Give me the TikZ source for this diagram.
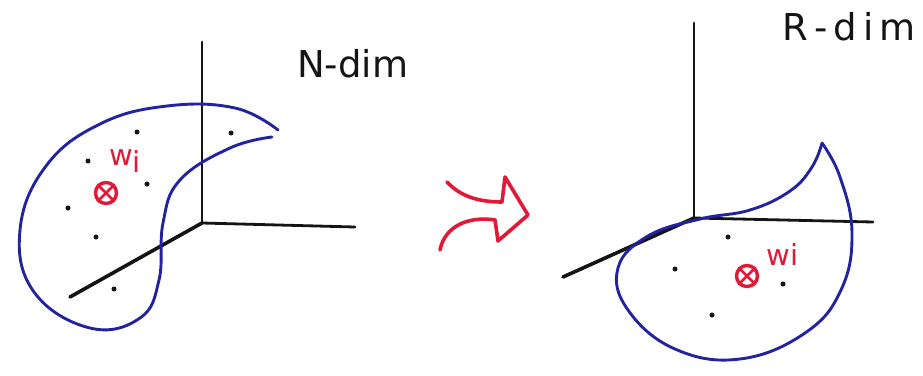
\documentclass[tikz,border=0pt]{standalone}
\usepackage{fontspec}
\setmainfont{DejaVu Sans}
\definecolor{blobblue}{RGB}{35,35,160}
\definecolor{penred}{RGB}{225,25,55}
\definecolor{ink}{RGB}{20,20,20}
\tikzset{
  axis/.style={draw=ink, line width=2.8pt, line cap=round},
  diagaxis/.style={draw=ink, line width=3.6pt, line cap=round},
  blob/.style={draw=blobblue, line width=2.9pt, line cap=round, line join=round},
  sample/.style={fill=ink, circle, inner sep=0pt, minimum size=5pt},
  mean/.style={draw=penred, line width=3.4pt},
  label/.style={text=ink, inner sep=0pt, anchor=base west, font=\fontsize{37}{40}\selectfont},
  wlabel/.style={text=penred, inner sep=0pt, anchor=base west, font=\fontsize{29}{32}\selectfont},
  redarrow/.style={draw=penred, line width=3.6pt, line cap=round, line join=round}
}
\begin{document}
\begin{tikzpicture}[x=1pt,y=-1pt]
\useasboundingbox (0,0) rectangle (923,375);
% ---------- left figure ----------
\coordinate (Lo) at (202,223);
\coordinate (Lv) at (202,42);
\coordinate (Lh) at (355,227);
\coordinate (Ld) at (70,297);
\draw[axis] (Lo) -- (Lv);
\draw[axis] (Lo) -- (Lh);
\draw[diagaxis] (Lo) -- (Ld);
\draw[blob] plot[smooth, tension=0.7] coordinates {
 (278,130) (235,108) (167,106) (100,124) (46,166) (20,230) (34,292)
 (90,328) (140,318) (159,280) (163,223) (180,180) (230,148) (272,137)};
\foreach \p/\q in {137/132, 88/161, 147/184, 68/208, 96/237, 114/289, 231/133}
  \node[sample] at (\p,\q) {};
\node[mean, circle, minimum size=21pt, inner sep=0pt] (Lm) at (106,193) {};
\draw[penred, line width=2.8pt] (Lm.north west) -- (Lm.south east) (Lm.north east) -- (Lm.south west);
\node[wlabel] (Lw) at (109,165) {w\raisebox{-7pt}{i}};
\node[label] (Ln) at (297,77) {N-dim};
% ---------- arrow ----------
\draw[redarrow] (447,182) .. controls (460,196) and (478,202) .. (502,202)
  -- (505,177) -- (528,215) -- (498,241) -- (495,220)
  .. controls (470,216) and (445,225) .. (440,250);
% ---------- right figure ----------
\coordinate (Ro) at (694,218);
\coordinate (Rv) at (694,23);
\coordinate (Rh) at (873,222);
\coordinate (Rd) at (563,277);
\draw[axis] (Ro) -- (Rv);
\draw[axis] (Ro) -- (Rh);
\draw[diagaxis] (Ro) -- (Rd);
\draw[blob] plot[smooth, tension=0.7] coordinates {
 (822,143) (840,177) (852,233) (841,290) (805,333) (740,359) (675,349)
 (628,310) (618,268) (648,236) (700,219) (750,210) (790,191) (812,167) (822,143)};
\foreach \p/\q in {728/237, 675/269, 783/284, 712/315}
  \node[sample] at (\p,\q) {};
\node[mean, circle, minimum size=21pt, inner sep=0pt] (Rm) at (747,276) {};
\draw[penred, line width=2.8pt] (Rm.north west) -- (Rm.south east) (Rm.north east) -- (Rm.south west);
\node[wlabel] (Rw) at (766,265) {w\hspace{1pt}i};
\node[label] (Rn) at (782,40) {R\,-\,d\,i\,m};
\end{tikzpicture}
\end{document}
